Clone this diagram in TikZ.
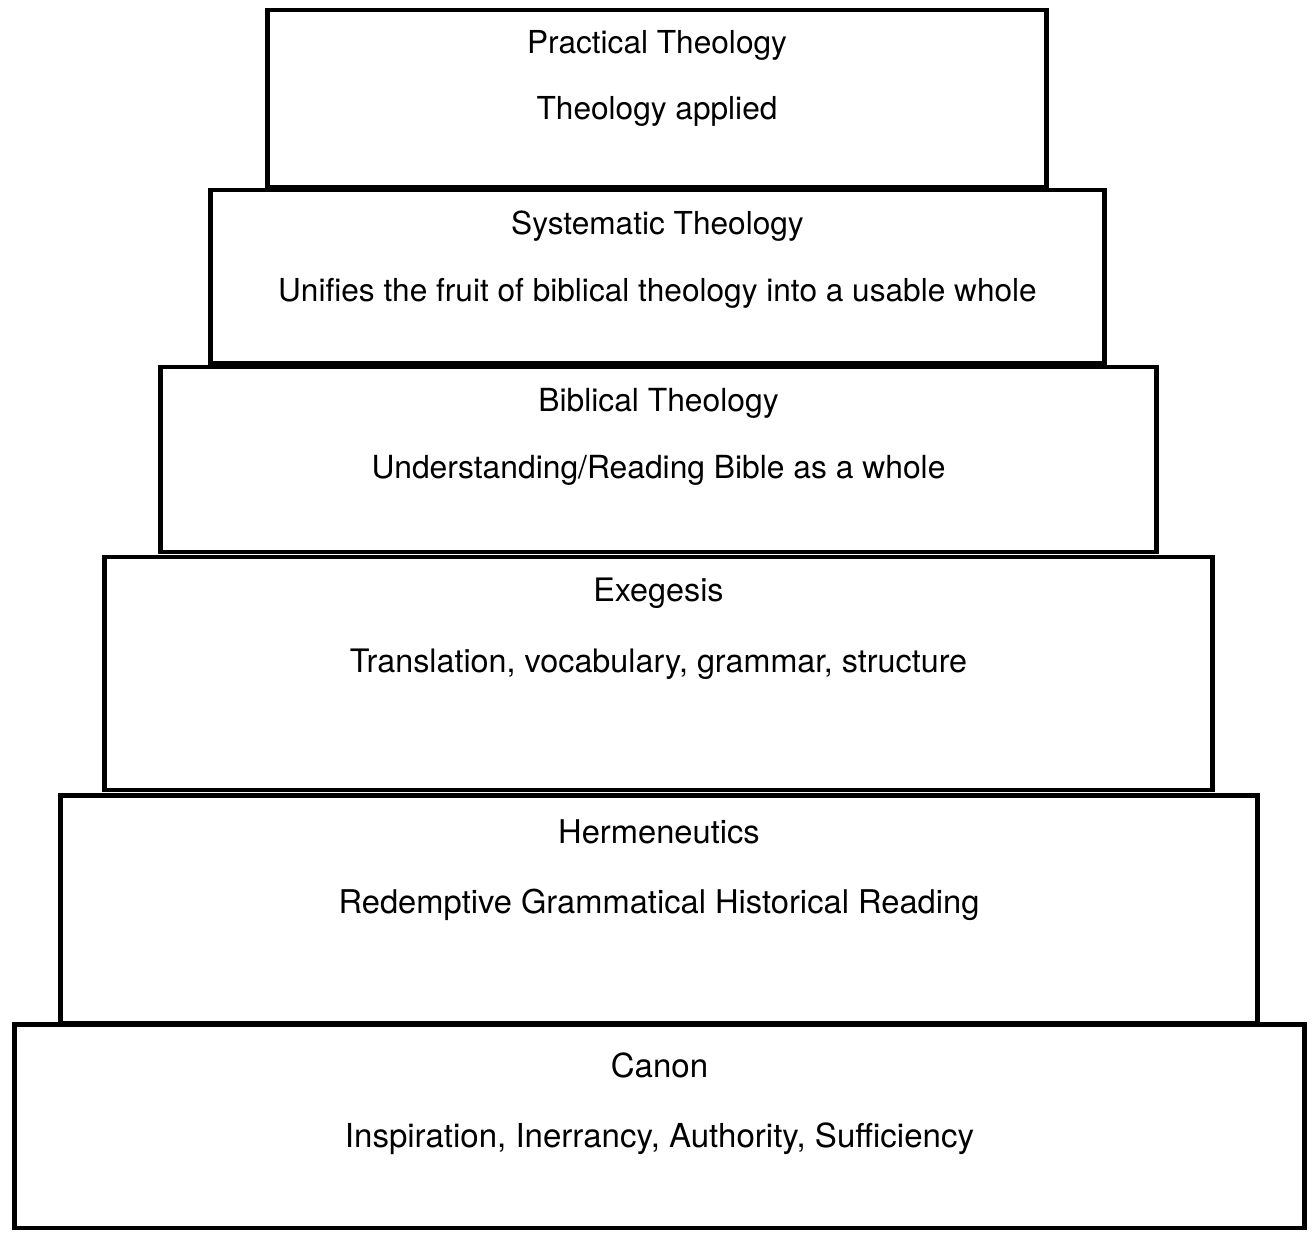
\documentclass[tikz,border=0pt]{standalone}
\usepackage{fontspec}
\setmainfont{TeX Gyre Heros}
\usetikzlibrary{positioning,calc}

\tikzset{
  tier/.style={draw, line width=2.8pt, outer sep=0pt, inner sep=0pt},
  tiertext/.style={font=\fontsize{#1}{22}\selectfont, inner sep=0pt},
  tiertext/.default=18,
}

\begin{document}
\begin{tikzpicture}[x=0.02cm, y=-0.02cm]
    \useasboundingbox (0,0) rectangle (1315,1232);
    % the steps, top to bottom
    \node (prac) [tier, minimum width=15.60cm, minimum height=3.54cm] at (657,98.5) {};
    \node (syst) [tier, minimum width=17.90cm, minimum height=3.46cm] at (657.5,276.5) {};
    \node (bibl) [tier, minimum width=19.94cm, minimum height=3.70cm] at (658.5,459.5) {};
    \node (exeg) [tier, minimum width=22.18cm, minimum height=4.66cm] at (658.5,673.5) {};
    \node (herm) [tier, minimum width=23.96cm, minimum height=4.56cm] at (659,909) {};
    \node (canon)[tier, minimum width=25.82cm, minimum height=4.08cm] at (659.5,1126) {};

    % labels
    \node (pracT) [tiertext] at ($(prac.north)+(0,35)$) {Practical Theology};
    \node (pracS) [tiertext] at ($(prac.north)+(0,101)$) {Theology applied};
    \node (systT) [tiertext] at ($(syst.north)+(0,36)$) {Systematic Theology};
    \node (systS) [tiertext] at ($(syst.north)+(0,103)$) {Unifies the fruit of biblical theology into a usable whole};
    \node (biblT) [tiertext=18.1] at ($(bibl.north)+(0,36)$) {Biblical Theology};
    \node (biblS) [tiertext=18.1] at ($(bibl.north)+(0,103)$) {Understanding/Reading Bible as a whole};
    \node (exegT) [tiertext=18.4] at ($(exeg.north)+(0,36)$) {Exegesis};
    \node (exegS) [tiertext=18.4] at ($(exeg.north)+(0,107)$) {Translation, vocabulary, grammar, structure};
    \node (hermT) [tiertext=18.6] at ($(herm.north)+(0,37)$) {Hermeneutics};
    \node (hermS) [tiertext=18.6] at ($(herm.north)+(0,110)$) {Redemptive Grammatical Historical Reading};
    \node (canonT)[tiertext=18.8] at ($(canon.north)+(0,41)$) {Canon};
    \node (canonS)[tiertext=18.8] at ($(canon.north)+(0,115)$) {Inspiration, Inerrancy, Authority, Sufficiency};
\end{tikzpicture}
\end{document}
